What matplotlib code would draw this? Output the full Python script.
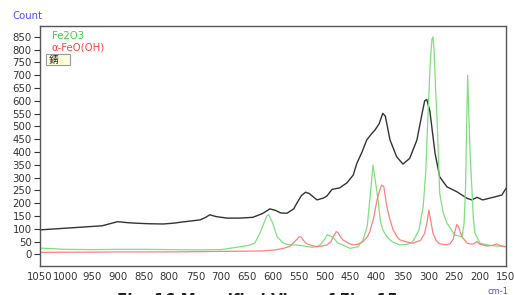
import numpy as np
import matplotlib
matplotlib.use("Agg")
from matplotlib import pyplot as plt

# wavenumber (cm-1) / count
sample_x = [1050, 1020, 990, 960, 930, 900, 880, 863, 840, 812, 793, 770, 741, 730,
            722, 710, 689, 664, 639, 620, 606, 595, 585, 573, 560, 554, 545, 537,
            530, 515, 503, 496, 486, 471, 457, 445, 438, 428, 419, 410, 403, 395,
            388, 383, 374, 361, 349, 336, 322, 312, 307, 303, 297, 287, 278, 264,
            245, 225, 216, 206, 195, 175, 158, 150]
sample_y = [96, 100, 104, 108, 112, 128, 124, 122, 120, 119, 122, 128, 135, 145,
            155, 148, 142, 142, 145, 160, 178, 172, 162, 161, 178, 200, 230, 243,
            238, 213, 220, 228, 254, 260, 280, 310, 356, 400, 447, 470, 486, 510,
            551, 540, 447, 381, 353, 375, 447, 551, 600, 605, 560, 395, 303, 264,
            245, 219, 213, 223, 213, 223, 232, 258]

fe2o3_x = [1050, 1000, 950, 900, 850, 800, 750, 700, 664, 645, 635, 625, 618, 612,
           608, 600, 592, 581, 570, 554, 523, 510, 500, 495, 490, 484, 475, 465,
           451, 436, 426, 418, 413, 409, 407, 404, 397, 393, 388, 380, 370, 355,
           340, 330, 318, 310, 305, 301, 296, 293, 291, 289, 286, 283, 278, 271,
           264, 249, 235, 231, 228, 226, 224, 222, 219, 216, 213, 210, 200, 180,
           160, 150]
fe2o3_y = [25, 20, 19, 20, 20, 19, 18, 19, 30, 36, 45, 84, 120, 150,
           155, 120, 69, 46, 38, 37, 28, 35, 60, 78, 72, 67, 45, 37,
           24, 30, 57, 110, 213, 300, 349, 310, 213, 135, 96, 69, 50, 37,
           40, 50, 95, 186, 320, 525, 760, 840, 850, 800, 650, 525, 239, 160,
           122, 76, 69, 120, 264, 500, 700, 560, 380, 264, 140, 83, 44, 35,
           32, 30]

feooh_x = [1050, 1000, 950, 900, 850, 800, 750, 700, 650, 619, 595, 580, 567, 558,
           550, 548, 545, 540, 534, 525, 515, 505, 496, 488, 482, 478, 474, 470,
           465, 455, 446, 436, 426, 418, 413, 406, 399, 394, 390, 386, 380, 374,
           368, 360, 355, 340, 330, 315, 307, 302, 299, 296, 291, 285, 278, 265,
           258, 252, 248, 245, 242, 238, 235, 225, 215, 206, 200, 187, 175, 168,
           162, 150]
feooh_y = [8, 9, 9, 10, 10, 10, 11, 12, 13, 14, 18, 24, 32, 50,
           68, 70, 66, 52, 41, 35, 30, 33, 37, 50, 75, 89, 85, 70,
           57, 45, 37, 40, 50, 68, 89, 140, 213, 250, 271, 265, 186, 135,
           96, 68, 57, 48, 44, 55, 83, 130, 174, 140, 83, 55, 41, 38,
           41, 60, 95, 117, 110, 85, 69, 44, 40, 50, 40, 33, 36, 41,
           35, 30]

ticks_x = np.arange(1050, 149, -50)
ticks_y = np.arange(0, 851, 50)

fig = plt.figure(figsize=(5.14, 2.95), dpi=100)
ax = fig.add_axes([0.0778, 0.0983, 0.9066, 0.8136])

ax.plot(sample_x, sample_y, color="#333333", lw=1.0)
ax.plot(fe2o3_x, fe2o3_y, color="#7fe07f", lw=0.9)
ax.plot(feooh_x, feooh_y, color="#ff8080", lw=0.9)

ax.set_xlim(1050, 150)
ax.set_ylim(-45, 892)
ax.set_xticks(ticks_x)
ax.set_yticks(ticks_y)
ax.tick_params(labelsize=7.3, colors="#333333", length=4, width=0.8, pad=2)
ax.tick_params(axis="x", length=0, pad=4)
for s in ax.spines.values():
    s.set_color("#555555")
    s.set_linewidth(1.0)

fig.text(12 / 514, 1 - 16 / 295, "Count", color="#4a4aff", fontsize=7.3, va="center")
fig.text(508 / 514, 1 - 291 / 295, "cm-1", color="#4a4aff", fontsize=6,
         ha="right", va="center")

fig.text(52 / 514, 1 - 36 / 295, "Fe2O3", color="#40d040", fontsize=7.3, va="center")
fig.text(52 / 514, 1 - 48 / 295, "α-FeO(OH)", color="#ff4040", fontsize=7.3, va="center")
fig.text(47 / 514, 1 - 59.5 / 295, " 錆     ", fontsize=7, va="center",
         family=["Noto Sans CJK JP", "DejaVu Sans"], color="#222222",
         bbox=dict(boxstyle="square,pad=0.1", fc="#ffffd8", ec="#999999", lw=0.8))

# caption sits mostly below the bottom edge, as in the reference
fig.text(0.5, 1 - 293 / 295, "Fig. 16 Magnified View of Fig. 15",
         fontsize=11, va="top", ha="center", color="#222222", weight="bold")

fig.savefig("out.png", dpi=100)
